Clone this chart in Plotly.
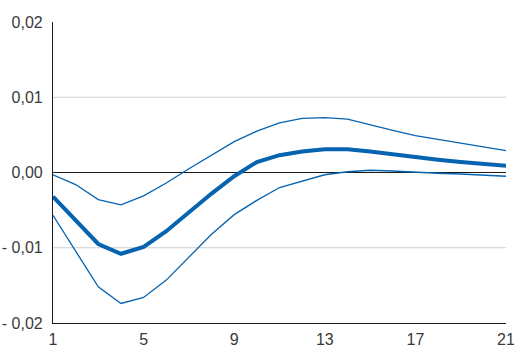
import plotly.graph_objects as go

periods = list(range(1, 22))
central = [-0.0032, -0.0064, -0.0095, -0.0108, -0.0099, -0.0078, -0.0053, -0.0028, -0.0005, 0.0014,
           0.0023, 0.0028, 0.0031, 0.0031, 0.0028, 0.0024, 0.0020, 0.0017, 0.0014, 0.0011, 0.0009]
upper = [-0.0003, -0.0016, -0.0036, -0.0043, -0.0031, -0.0014, 0.0005, 0.0023, 0.0041, 0.0055,
         0.0066, 0.0072, 0.0073, 0.0071, 0.0063, 0.0056, 0.0049, 0.0044, 0.0038, 0.0034, 0.0029]
lower = [-0.0057, -0.0104, -0.0152, -0.0174, -0.0166, -0.0143, -0.0113, -0.0082, -0.0056, -0.0037,
         -0.0020, -0.0011, -0.0003, 0.0001, 0.0003, 0.0002, 0.0000, -0.0001, -0.0002, -0.0004, -0.0005]
y_tickvals = [-0.02, -0.01, 0.0, 0.01, 0.02]
y_ticktext = ["- 0,02", "- 0,01", "0,00", "0,01", "0,02"]
x_tickvals = [1, 5, 9, 13, 17, 21]
grid_levels = [-0.01, 0.01]

blue = "#0563b0"
fig = go.Figure()
for lvl in grid_levels:
    fig.add_shape(type="line", xref="paper", x0=0, x1=1, yref="y", y0=lvl, y1=lvl,
                  line=dict(color="#cfcfcf", width=1.2), layer="below")
fig.add_shape(type="line", xref="paper", x0=0, x1=1, yref="y", y0=0, y1=0,
              line=dict(color="#1a1a1a", width=1.2), layer="below")
fig.add_trace(go.Scatter(x=periods, y=upper, mode="lines", line=dict(color=blue, width=1.3)))
fig.add_trace(go.Scatter(x=periods, y=lower, mode="lines", line=dict(color=blue, width=1.3)))
fig.add_trace(go.Scatter(x=periods, y=central, mode="lines", line=dict(color=blue, width=4)))

font = dict(family="Liberation Sans, Arial", size=16, color="#3a3a3a")
fig.update_layout(
    width=514, height=347, showlegend=False,
    margin=dict(l=53, r=8, t=22, b=24),
    plot_bgcolor="white", paper_bgcolor="white",
    xaxis=dict(range=[0.9999, 21.0001], tickvals=x_tickvals, showgrid=False, zeroline=False,
               showline=True, linecolor="#1a1a1a", linewidth=1.2, ticks="", tickfont=font,
               automargin=False, ticklabelstandoff=2, ticklabeloverflow="allow"),
    yaxis=dict(range=[-0.02, 0.02], tickvals=y_tickvals, ticktext=y_ticktext, showgrid=False,
               zeroline=False, showline=True, linecolor="#1a1a1a", linewidth=1.2, ticks="",
               tickfont=font, ticklabelstandoff=6, automargin=False, ticklabeloverflow="allow"),
)
fig.write_html("out.html", config={"displayModeBar": False},
               post_script="document.body.style.margin='0';document.body.style.overflow='hidden';")
